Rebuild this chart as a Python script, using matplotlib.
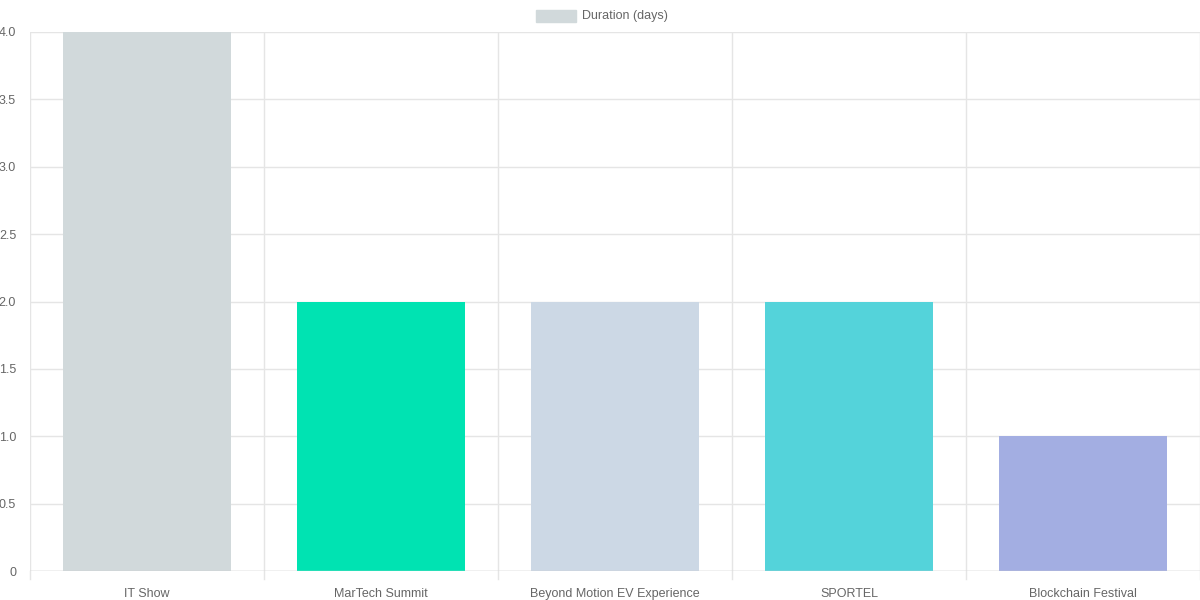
import matplotlib.pyplot as plt
import numpy as np

events = ['IT Show', 'MarTech Summit', 'Beyond Motion EV Experience', 'SPORTEL', 'Blockchain Festival']
durations = [4, 2, 2, 2, 1]
colors = ['#d1d9db', '#00e3b2', '#ccd8e5', '#54d3da', '#a3aee2']

plt.rcParams['font.family'] = ['Liberation Sans', 'DejaVu Sans']
fig = plt.figure(figsize=(12, 6), dpi=100)
ax = fig.add_axes([30/1200, 29/600, 1170/1200, 539/600])

x = np.arange(len(events))
ax.bar(x, durations, width=0.72, color=colors, zorder=2)

ax.set_xlim(-0.5, len(events) - 0.5)
ax.set_ylim(0, 4)
ax.set_yticks(np.arange(0, 4.01, 0.5))
ax.set_yticklabels(['0'] + [f'{v:.1f}' for v in np.arange(0.5, 4.01, 0.5)])
ax.set_xticks(x)
ax.set_xticklabels(events)

# vertical grid at category boundaries
for b in np.arange(-0.5, len(events) - 0.4, 1):
    ax.axvline(b, color='#e5e5e5', lw=1, zorder=1)
    ax.plot([b, b], [0, -0.06], color='#e5e5e5', lw=1, clip_on=False)
ax.yaxis.grid(True, color='#e5e5e5', lw=1, zorder=1)
ax.set_axisbelow(True)

for s in ax.spines.values():
    s.set_visible(False)
ax.axhline(0, color='#cccccc', lw=1, zorder=3)
ax.tick_params(axis='both', length=0, labelsize=9, colors='#666666')
ax.tick_params(axis='x', pad=12)
ax.tick_params(axis='y', pad=10)

# legend
fig.patches.append(plt.Rectangle((536/1200, 1 - 22/600), 40/1200, 12/600,
                                 transform=fig.transFigure, color=colors[0]))
fig.text(582/1200, 1 - 16/600, 'Duration (days)', fontsize=9, color='#666666', va='center')

fig.savefig('out.png')
